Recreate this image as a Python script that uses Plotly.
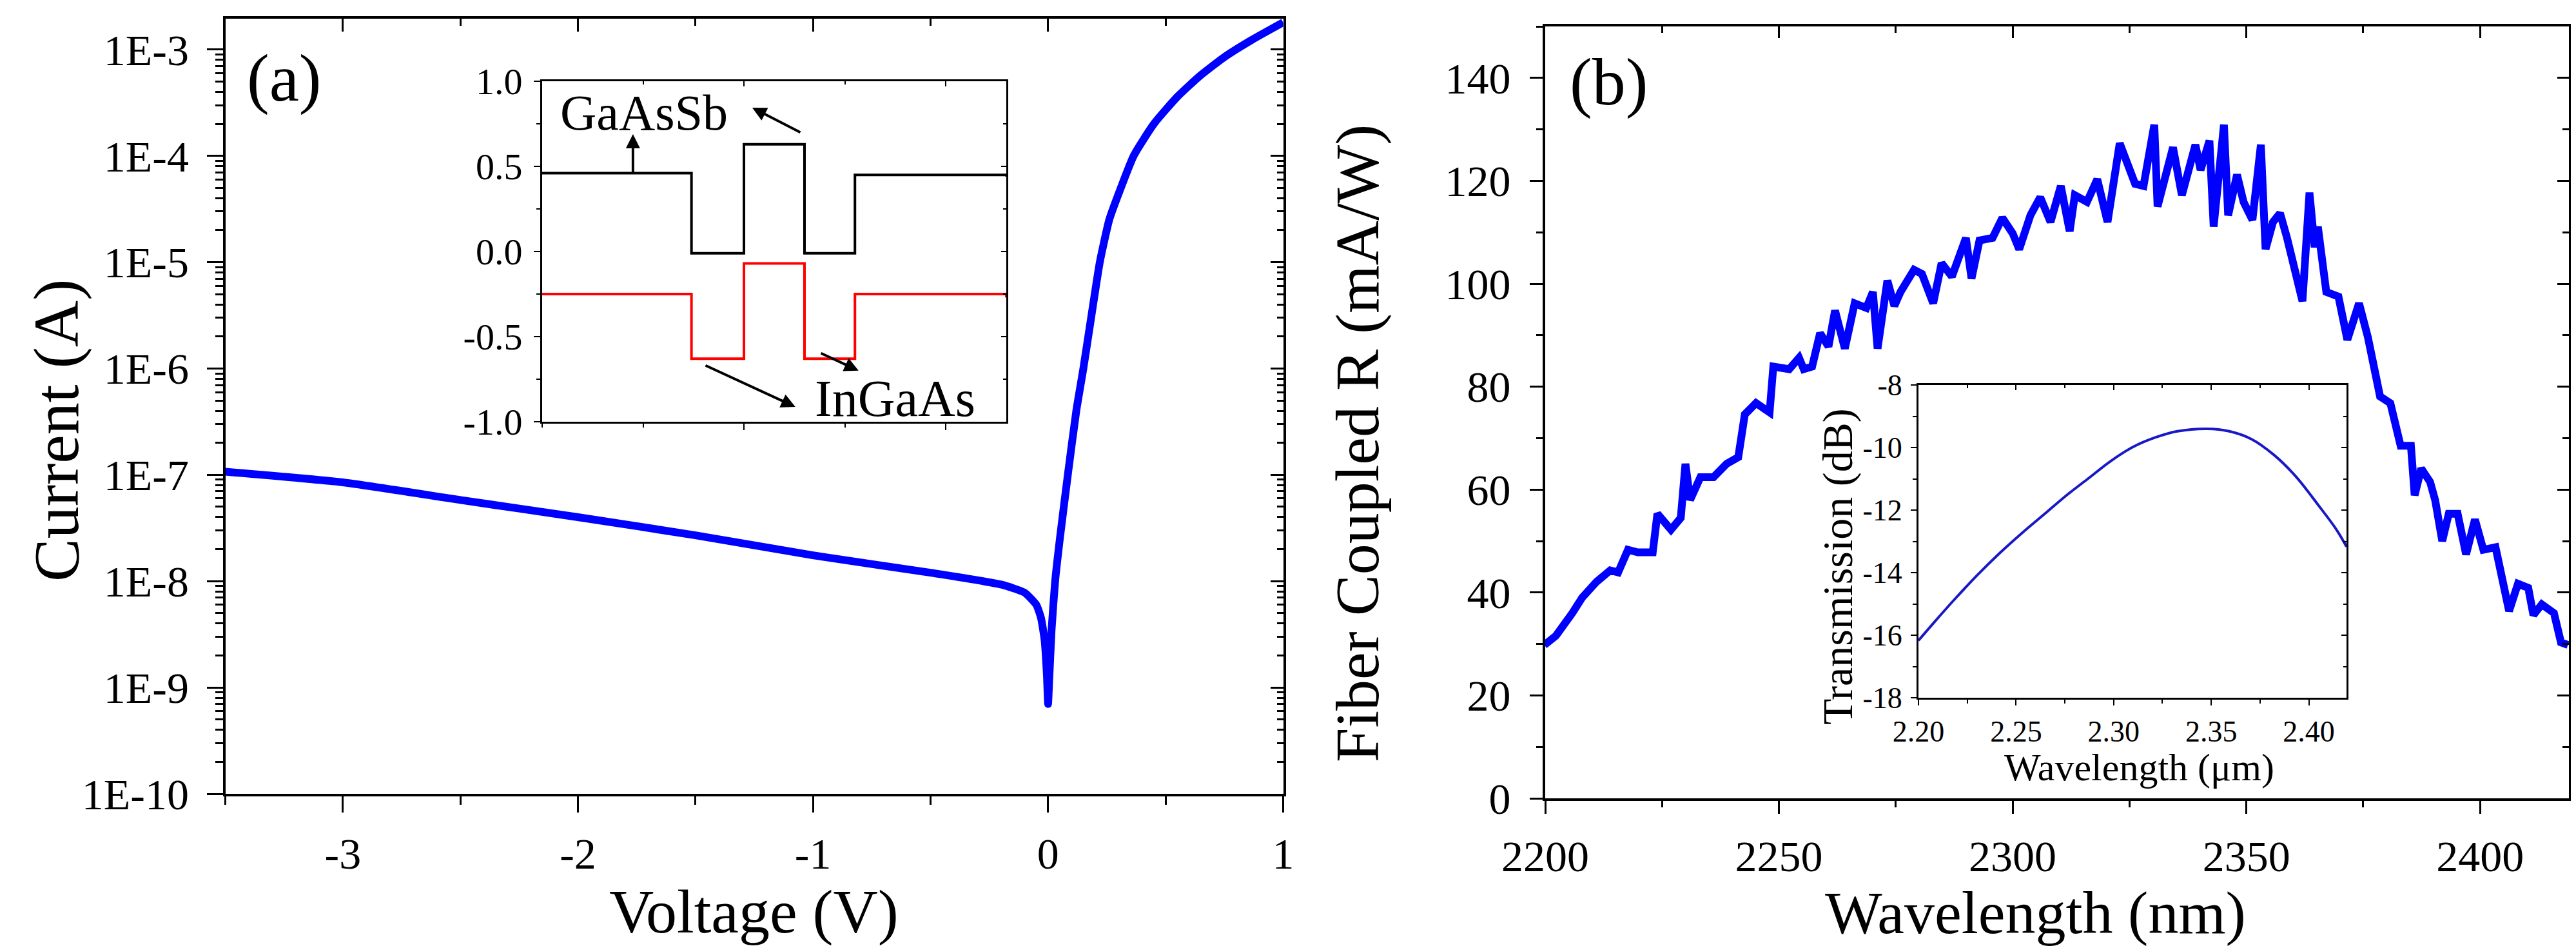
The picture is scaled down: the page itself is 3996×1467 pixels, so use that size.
import plotly.graph_objects as go

# ---------------- data ----------------
# Panel (a): I-V curve
iv_voltage = [-3.5, -3.0, -2.5, -2.0, -1.5, -1.0, -0.5, -0.2, -0.1, -0.05, -0.03, -0.015, -0.005,
              0.0, 0.005, 0.015, 0.03, 0.05, 0.084, 0.12, 0.15, 0.185, 0.22, 0.26, 0.30, 0.364,
              0.45, 0.55, 0.65, 0.75, 0.866, 1.0]
iv_current = [1.07e-7, 8.5e-8, 5.8e-8, 4.0e-8, 2.7e-8, 1.75e-8, 1.2e-8, 9.3e-9, 7.8e-9, 6.0e-9,
              4.5e-9, 2.8e-9, 1.3e-9, 7e-10, 1.2e-9, 3.5e-9, 1.0e-8, 2.5e-8, 1.0e-7, 4e-7, 1.0e-6,
              3.2e-6, 1.0e-5, 2.5e-5, 4.4e-5, 1.0e-4, 2.0e-4, 3.6e-4, 5.75e-4, 8.5e-4, 1.23e-3, 1.8e-3]

# Inset (a): band diagram (step levels)
band_pos = [0, 74, 100, 130, 155, 230]
gaassb_level = [0.46, -0.01, 0.63, -0.01, 0.45, 0.44]
ingaas_level = [-0.25, -0.63, -0.07, -0.63, -0.25, -0.27]

# Panel (b): fiber coupled responsivity
resp_wavelength = [2199.8, 2202.3, 2205.8, 2207.9, 2211.0, 2213.9, 2215.6, 2217.7, 2219.8, 2223.0,
                   2224.0, 2226.9, 2229.0, 2230.0, 2231.0, 2233.2, 2236.0, 2238.8, 2241.3, 2242.7,
                   2245.1, 2248.0, 2248.8, 2252.2, 2254.3, 2255.3, 2257.1, 2258.8, 2260.6, 2262.0,
                   2264.1, 2266.2, 2268.7, 2270.1, 2271.1, 2273.2, 2274.7, 2276.0, 2278.9, 2280.6,
                   2283.0, 2284.8, 2287.0, 2290.0, 2291.2, 2292.9, 2295.7, 2297.8, 2300.0, 2301.4,
                   2303.8, 2305.9, 2308.1, 2310.3, 2312.2, 2313.3, 2315.9, 2318.1, 2320.3, 2322.9,
                   2326.2, 2328.0, 2330.3, 2331.0, 2334.3, 2336.2, 2339.1, 2340.2, 2342.1, 2343.0,
                   2345.2, 2346.1, 2348.0, 2349.4, 2351.3, 2353.1, 2354.1, 2355.7, 2357.2, 2358.7,
                   2362.0, 2363.5, 2364.6, 2365.3, 2367.1, 2369.7, 2371.6, 2374.1, 2376.0, 2378.6,
                   2380.8, 2383.0, 2385.2, 2386.0, 2387.4, 2389.3, 2390.4, 2391.9, 2393.3, 2395.2,
                   2397.0, 2398.9, 2400.7, 2403.3, 2406.2, 2408.1, 2410.3, 2411.4, 2413.2, 2415.8,
                   2417.3, 2418.8]
resp_value = [29.8, 31.6, 36.0, 39.0, 42.1, 44.3, 43.9, 48.3, 47.8, 47.8,
              55.3, 52.2, 54.5, 65.0, 58.0, 62.4, 62.4, 65.0, 66.3, 74.6,
              76.8, 75.0, 83.9, 83.4, 85.6, 83.4, 83.9, 90.4, 87.8, 94.8,
              87.4, 96.2, 95.3, 98.4, 87.4, 100.6, 95.7, 98.4, 102.7, 101.9,
              96.2, 104.0, 101.4, 108.9, 101.0, 108.4, 108.9, 112.8, 109.8, 106.7,
              113.3, 116.8, 112.0, 119.0, 110.2, 117.2, 115.9, 120.3, 112.0, 127.3,
              119.4, 119.0, 130.9, 115.0, 126.5, 117.2, 127.0, 122.1, 127.8, 111.1,
              130.9, 113.3, 121.2, 115.9, 112.4, 127.0, 106.7, 112.0, 113.7, 108.9,
              96.6, 117.7, 107.1, 111.1, 98.4, 97.5, 89.1, 96.2, 89.6, 78.1,
              76.8, 68.5, 68.5, 58.9, 64.1, 61.5, 57.9, 50.0, 55.3, 55.3,
              47.4, 54.2, 48.3, 48.8, 36.4, 41.7, 40.9, 35.6, 37.7, 36.0,
              30.3, 29.8]

# Inset (b): transmission
trans_wavelength = [2.200, 2.2076, 2.219, 2.2303, 2.2417, 2.2531, 2.2645, 2.2758, 2.2872, 2.2986,
                    2.310, 2.3213, 2.3327, 2.3479, 2.3592, 2.3706, 2.382, 2.3934, 2.4047, 2.4142,
                    2.4193]
trans_db = [-16.17, -15.62, -14.82, -14.07, -13.37, -12.73, -12.13, -11.53, -10.98, -10.43,
            -9.98, -9.68, -9.48, -9.40, -9.48, -9.73, -10.23, -10.93, -11.83, -12.63,
            -13.17]

# tick labels
a_x_vals = [-3, -2, -1, 0, 1]
a_x_text = ["-3", "-2", "-1", "0", "1"]
a_y_vals = [1e-10, 1e-9, 1e-8, 1e-7, 1e-6, 1e-5, 1e-4, 1e-3]
a_y_text = ["1E-10", "1E-9", "1E-8", "1E-7", "1E-6", "1E-5", "1E-4", "1E-3"]
ai_y_vals = [-1.0, -0.5, 0.0, 0.5, 1.0]
ai_y_text = ["-1.0", "-0.5", "0.0", "0.5", "1.0"]
b_x_vals = [2200, 2250, 2300, 2350, 2400]
b_x_text = ["2200", "2250", "2300", "2350", "2400"]
b_y_vals = [0, 20, 40, 60, 80, 100, 120, 140]
b_y_text = ["0", "20", "40", "60", "80", "100", "120", "140"]
bi_x_vals = [2.20, 2.25, 2.30, 2.35, 2.40]
bi_x_text = ["2.20", "2.25", "2.30", "2.35", "2.40"]
bi_y_vals = [-18, -16, -14, -12, -10, -8]
bi_y_text = ["-18", "-16", "-14", "-12", "-10", "-8"]

# ---------------- layout helpers ----------------
W, H = 3996, 1467
FONT = "Liberation Serif, Times New Roman, serif"


def dx(left, right):
    return [left / W, right / W]


def dy(top, bottom):
    return [1 - bottom / H, 1 - top / H]


def base_axis(lw, tl, fs, side_ticks, **kw):
    d = dict(showline=True, linecolor="black", linewidth=lw, ticks=side_ticks, ticklen=tl,
             tickwidth=max(lw - 1, 2), tickcolor="black", showgrid=False, zeroline=False,
             automargin=False, layer="above traces",
             tickfont=dict(family=FONT, size=fs, color="black"))
    d.update(kw)
    return d


def minor(dt, t0, side, ln, w):
    return dict(dtick=dt, tick0=t0, ticks=side, ticklen=ln, tickwidth=w, tickcolor="black",
                showgrid=False)


log_minor = [k * 10 ** e for e in range(-10, -2) for k in range(2, 10)]

fig = go.Figure()

fig.add_trace(go.Scatter(x=iv_voltage, y=iv_current, mode="lines", xaxis="x", yaxis="y",
                         line=dict(color="#0000FF", width=12, shape="spline", smoothing=0.5),
                         showlegend=False))
fig.add_trace(go.Scatter(x=band_pos, y=gaassb_level, mode="lines", xaxis="x3", yaxis="y3",
                         line=dict(color="black", width=4, shape="hv"), showlegend=False))
fig.add_trace(go.Scatter(x=band_pos, y=ingaas_level, mode="lines", xaxis="x3", yaxis="y3",
                         line=dict(color="#FF0000", width=4, shape="hv"), showlegend=False))
fig.add_trace(go.Scatter(x=resp_wavelength, y=resp_value, mode="lines", xaxis="x2", yaxis="y2",
                         line=dict(color="#0000FF", width=12), showlegend=False))
fig.add_trace(go.Scatter(x=trans_wavelength, y=trans_db, mode="lines", xaxis="x4", yaxis="y4",
                         line=dict(color="#1818C8", width=4, shape="spline"), showlegend=False))
# empty traces so the mirrored (top/right) frame axes get drawn
for xa, ya in [("x5", "y5"), ("x6", "y6"), ("x7", "y7"), ("x8", "y8")]:
    fig.add_trace(go.Scatter(x=[], y=[], xaxis=xa, yaxis=ya, mode="lines", hoverinfo="skip",
                             showlegend=False))

a_xr = [-3.5, 1.0]
a_yr = [-10, -2.71]
b_xr = [2200, 2419]
b_yr = [0, 150]
ai_xr = [0, 230]
ai_yr = [-1, 1]
bi_xr = [2.2, 2.4193]
bi_yr = [-18, -8]

A_X = dx(341.5, 1982.5)
A_Y = dy(21, 1223)
B_X = dx(2389, 3977)
B_Y = dy(33, 1230)
AI_X = dx(833, 1553)
AI_Y = dy(118, 646)
BI_X = dx(2968, 3632)
BI_Y = dy(589, 1074)

TF = 68

lay = dict(
    width=W, height=H, autosize=False, margin=dict(l=0, r=0, t=0, b=0, pad=0),
    paper_bgcolor="white", plot_bgcolor="white", showlegend=False,
    font=dict(family=FONT, color="black"),
)

# panel (a)
lay["xaxis"] = base_axis(4, 25, TF, "outside", domain=A_X, anchor="y", range=a_xr,
                         tickmode="array", tickvals=a_x_vals, ticktext=a_x_text,
                         ticklabelstandoff=5, minor=minor(0.5, 0, "outside", 13, 3))
lay["yaxis"] = base_axis(4, 25, TF, "outside", domain=A_Y, anchor="x", type="log",
                         range=a_yr, tickmode="array", tickvals=a_y_vals, ticktext=a_y_text,
                         ticklabelstandoff=14,
                         minor=dict(tickmode="array", tickvals=log_minor, ticks="outside",
                                    ticklen=12, tickwidth=3, tickcolor="black"))
lay["xaxis5"] = base_axis(4, 20, TF, "inside", overlaying="x", side="top", anchor="y5",
                          range=a_xr, tickmode="array", tickvals=a_x_vals,
                          showticklabels=False, minor=minor(0.5, 0, "inside", 11, 3))
lay["yaxis5"] = base_axis(4, 20, TF, "inside", overlaying="y", side="right", anchor="x5",
                          type="log", range=a_yr, tickmode="array", tickvals=a_y_vals,
                          showticklabels=False,
                          minor=dict(tickmode="array", tickvals=log_minor, ticks="inside",
                                     ticklen=10, tickwidth=3, tickcolor="black"))

# panel (b)
lay["xaxis2"] = base_axis(4, 20, TF, "outside", domain=B_X, anchor="y2", range=b_xr,
                          tickmode="array", tickvals=b_x_vals, ticktext=b_x_text,
                          ticklabelstandoff=7, minor=minor(25, 2200, "outside", 10, 3))
lay["yaxis2"] = base_axis(4, 20, TF, "outside", domain=B_Y, anchor="x2", range=b_yr,
                          tickmode="array", tickvals=b_y_vals, ticktext=b_y_text,
                          ticklabelstandoff=16, minor=minor(10, 0, "outside", 10, 3))
lay["xaxis6"] = base_axis(4, 18, TF, "inside", overlaying="x2", side="top", anchor="y6",
                          range=b_xr, tickmode="array", tickvals=b_x_vals,
                          showticklabels=False, minor=minor(25, 2200, "inside", 10, 3))
lay["yaxis6"] = base_axis(4, 18, TF, "inside", overlaying="y2", side="right", anchor="x6",
                          range=b_yr, tickmode="array", tickvals=b_y_vals,
                          showticklabels=False, minor=minor(10, 0, "inside", 10, 3))

# inset (a)
lay["xaxis3"] = base_axis(3, 10, 58, "outside", domain=AI_X, anchor="y3", range=ai_xr,
                          tickmode="array", tickvals=[100, 200], showticklabels=False,
                          minor=minor(50, 0, "outside", 6, 2))
lay["yaxis3"] = base_axis(3, 10, 58, "outside", domain=AI_Y, anchor="x3", range=ai_yr,
                          tickmode="array", tickvals=ai_y_vals, ticktext=ai_y_text,
                          ticklabelstandoff=6, minor=minor(0.25, 0, "outside", 6, 2))
lay["xaxis7"] = base_axis(3, 8, 58, "inside", overlaying="x3", side="top", anchor="y7",
                          range=ai_xr, tickmode="array", tickvals=[100, 200],
                          showticklabels=False, minor=minor(50, 0, "inside", 5, 2))
lay["yaxis7"] = base_axis(3, 8, 58, "inside", overlaying="y3", side="right", anchor="x7",
                          range=ai_yr, tickmode="array", tickvals=ai_y_vals,
                          showticklabels=False, minor=minor(0.25, 0, "inside", 5, 2))

# inset (b)
lay["xaxis4"] = base_axis(3, 9, 46, "outside", domain=BI_X, anchor="y4", range=bi_xr,
                          tickmode="array", tickvals=bi_x_vals, ticktext=bi_x_text,
                          ticklabelstandoff=1, minor=minor(0.025, 2.2, "outside", 6, 2))
lay["yaxis4"] = base_axis(3, 9, 46, "outside", domain=BI_Y, anchor="x4", range=bi_yr,
                          tickmode="array", tickvals=bi_y_vals, ticktext=bi_y_text,
                          ticklabelstandoff=4, minor=minor(1, -18, "outside", 6, 2))
lay["xaxis8"] = base_axis(3, 8, 46, "inside", overlaying="x4", side="top", anchor="y8",
                          range=bi_xr, tickmode="array", tickvals=bi_x_vals,
                          showticklabels=False, minor=minor(0.025, 2.2, "inside", 5, 2))
lay["yaxis8"] = base_axis(3, 8, 46, "inside", overlaying="y4", side="right", anchor="x8",
                          range=bi_yr, tickmode="array", tickvals=bi_y_vals,
                          showticklabels=False, minor=minor(1, -18, "inside", 5, 2))

fig.update_layout(**lay)


def ptxt(text, x, y, size, angle=0):
    fig.add_annotation(text=text, x=x / W, y=1 - y / H, xref="paper", yref="paper",
                       showarrow=False, textangle=angle, xanchor="center", yanchor="middle",
                       font=dict(family=FONT, size=size, color="black"))


# axis titles & panel labels
ptxt("Current (A)", 80, 660, 100, -90)
ptxt("Voltage (V)", 1161, 1405, 96)
ptxt("Fiber Coupled R (mA/W)", 2097, 680, 96, -90)
ptxt("Wavelength (nm)", 3149, 1407, 94)
ptxt("(a)", 432, 113, 104)
ptxt("(b)", 2487, 119, 104)
ptxt("Transmission (dB)", 2843, 871, 66, -90)
ptxt("Wavelength (μm)", 3310, 1182, 60)

# inset (a) labels
fig.add_annotation(text="GaAsSb", x=50.5, y=0.818, xref="x3", yref="y3", showarrow=False,
                   font=dict(family=FONT, size=78, color="black"))
fig.add_annotation(text="InGaAs", x=175, y=-0.864, xref="x3", yref="y3", showarrow=False,
                   font=dict(family=FONT, size=80, color="black"))

arrows = [
    ((45.0, 0.458), (45.0, 0.689)),
    ((128.4, 0.697), (104.1, 0.845)),
    ((80.5, -0.667), (125.5, -0.913)),
    ((137.7, -0.595), (156.8, -0.70)),
]
for (tx, ty), (hx, hy) in arrows:
    fig.add_annotation(x=hx, y=hy, ax=tx, ay=ty, xref="x3", yref="y3", axref="x3", ayref="y3",
                       text="", showarrow=True, arrowhead=2, arrowsize=1.1, arrowwidth=4,
                       arrowcolor="black")

fig.write_html("out.html")
